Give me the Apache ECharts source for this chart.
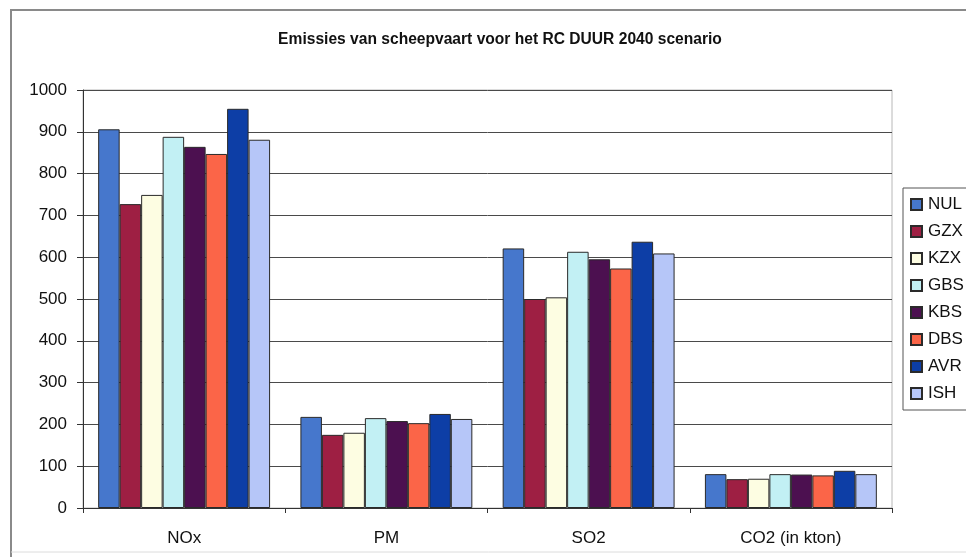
<!DOCTYPE html>
<html>
<head>
<meta charset="utf-8">
<script src="https://cdn.jsdelivr.net/npm/echarts@6/dist/echarts.min.js"></script>
<style>
  html, body { margin: 0; padding: 0; background: #fff; }
  #chart { width: 966px; height: 557px; }
</style>
</head>
<body>
<div id="chart"></div>
<script>
// Emission categories on the x axis
const categories = ['NOx', 'PM', 'SO2', 'CO2 (in kton)'];

// One series per ship scenario
const scenarioNames = ['NUL', 'GZX', 'KZX', 'GBS', 'KBS', 'DBS', 'AVR', 'ISH'];
const NUL = [906, 218, 621, 81];
const GZX = [727, 175, 500, 69];
const KZX = [749, 180, 504, 70];
const GBS = [888, 215, 613, 81];
const KBS = [864, 208, 595, 80];
const DBS = [847, 203, 573, 78];
const AVR = [955, 225, 637, 89];
const ISH = [881, 213, 609, 81];
const seriesValues = [NUL, GZX, KZX, GBS, KBS, DBS, AVR, ISH];

const yTicks = { min: 0, max: 1000, step: 100 };

const palette = ['#4677cc', '#9e1f43', '#fdfde2', '#c2f0f4', '#4c1050', '#fb6548', '#0d3ea6', '#b6c6f8'];
const font = 'Liberation Sans, Arial, sans-serif';

const chart = echarts.init(document.getElementById('chart'), null, { renderer: 'canvas' });

chart.setOption({
  animation: false,
  backgroundColor: '#ffffff',
  title: {
    text: 'Emissies van scheepvaart voor het RC DUUR 2040 scenario',
    left: 495,
    textAlign: 'center',
    top: 27,
    textStyle: { fontFamily: font, fontSize: 15.6, fontWeight: 'bold', color: '#111' }
  },
  legend: {
    orient: 'vertical',
    left: 903,
    top: 188,
    padding: [8, 40, 8, 7],
    itemGap: 10,
    itemWidth: 11,
    itemHeight: 11,
    borderColor: '#555',
    borderWidth: 1,
    icon: 'rect',
    textStyle: { fontFamily: font, fontSize: 17, lineHeight: 17, color: '#111', padding: [0, 0, 0, 1] },
    data: scenarioNames
  },
  grid: {
    left: 83,
    right: 74,
    top: 90,
    bottom: 49,
    show: true,
    borderColor: '#b8b8b8',
    borderWidth: 1
  },
  xAxis: {
    type: 'category',
    data: categories,
    axisLine: { lineStyle: { color: '#333', width: 1 } },
    axisTick: { show: true, length: 5, lineStyle: { color: '#333' } },
    axisLabel: { fontFamily: font, fontSize: 17, color: '#111', margin: 22 }
  },
  yAxis: {
    type: 'value',
    min: yTicks.min,
    max: yTicks.max,
    interval: yTicks.step,
    axisLine: { show: true, lineStyle: { color: '#333', width: 1 } },
    axisTick: { show: true, length: 6, lineStyle: { color: '#333' } },
    axisLabel: { fontFamily: font, fontSize: 17, color: '#111', margin: 16, formatter: v => String(v) },
    splitLine: { lineStyle: { color: '#4a4a4a', width: 1 } }
  },
  series: scenarioNames.map((name, i) => ({
    name: name,
    type: 'bar',
    data: seriesValues[i],
    barGap: '0%',
    barCategoryGap: '15%',
    itemStyle: { color: palette[i], borderColor: '#2a2a2a', borderWidth: 1 }
  })),
  graphic: [
    { type: 'line', shape: { x1: 10, y1: 10, x2: 966, y2: 10 }, style: { stroke: '#8a8a8a', lineWidth: 2 } },
    { type: 'line', shape: { x1: 11, y1: 10, x2: 11, y2: 557 }, style: { stroke: '#8a8a8a', lineWidth: 2 } },
    { type: 'line', shape: { x1: 11, y1: 552, x2: 966, y2: 552 }, style: { stroke: '#dcdcdc', lineWidth: 1 } }
  ]
});
</script>
</body>
</html>
